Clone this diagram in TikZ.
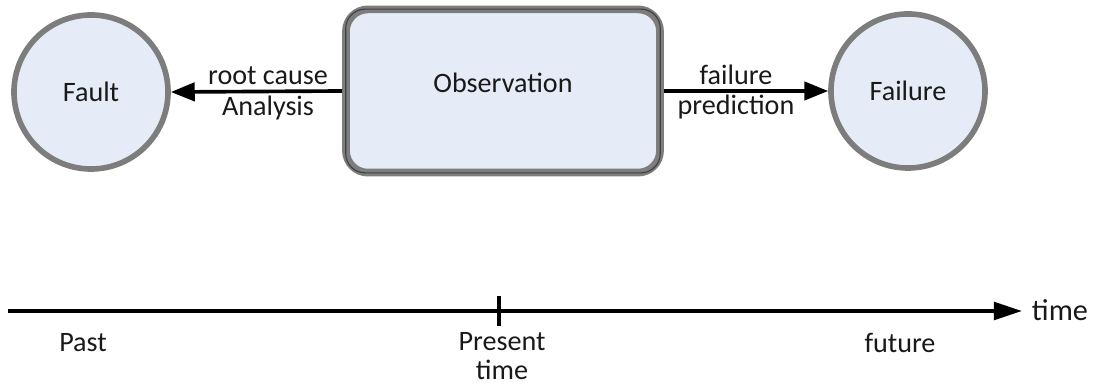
\documentclass[tikz,border=0pt]{standalone}
\usepackage{fontspec}
\setmainfont{Carlito}
\usetikzlibrary{arrows.meta}
\definecolor{nodefill}{RGB}{230,236,247}
\definecolor{bordergray}{RGB}{125,125,125}
\definecolor{txt}{RGB}{25,25,25}
\begin{document}
\begin{tikzpicture}[x=0.025cm,y=-0.025cm,
  every node/.style={text=txt,font=\fontsize{20pt}{23pt}\selectfont},
  circ/.style={circle,draw=bordergray,line width=4pt,fill=nodefill,minimum size=3.85cm,inner sep=0pt},
  obsbox/.style={rectangle,rounded corners=0.55cm,draw=bordergray,line width=5.5pt,fill=nodefill,minimum width=7.85cm,minimum height=4.08cm,inner sep=0pt},
  arr/.style={line width=2.6pt,-{Triangle[length=17pt,width=13pt]}},
  tarr/.style={line width=2.6pt,-{Triangle[length=20pt,width=12.5pt]}},
  lbl/.style={inner sep=0pt}]
\useasboundingbox (0,0) rectangle (1094,385);
\node[circ] (fault) at (91,92) {Fault};
\node[obsbox] (obs) at (503,91) {};
\draw[line width=0.8pt,draw=black!75,rounded corners=0.48cm]
  ([shift={(2.6pt,-2.6pt)}]obs.north west) rectangle ([shift={(-2.6pt,2.6pt)}]obs.south east);
\node[lbl] (obstext) at (503,83) {Observation};
\node[circ] (failure) at (908,91) {Failure};
\draw[arr] (obs.west) -- (fault.east);
\draw[arr] (obs.east) -- (failure.west);
\node[lbl] (rc) at (268,76) {root cause};
\node[lbl] (an) at (268,108) {Analysis};
\node[lbl] (fl) at (736,75) {failure};
\node[lbl] (pr) at (736,107) {prediction};
% timeline
\coordinate (tl) at (8,311);
\coordinate (tr) at (1022,311);
\draw[tarr] (tl) -- (tr);
\coordinate (ticktop) at (499,296);
\coordinate (tickbot) at (499,326);
\draw[line width=2.6pt] (ticktop) -- (tickbot);
\node[lbl,font=\fontsize{21.5pt}{24pt}\selectfont] (timelbl) at (1060,310) {time};
\node[lbl] (past) at (83,343) {Past};
\node[lbl] (present) at (502,342) {Present};
\node[lbl] (ptime) at (502,370) {time};
\node[lbl] (future) at (900,343) {future};
\end{tikzpicture}
\end{document}
